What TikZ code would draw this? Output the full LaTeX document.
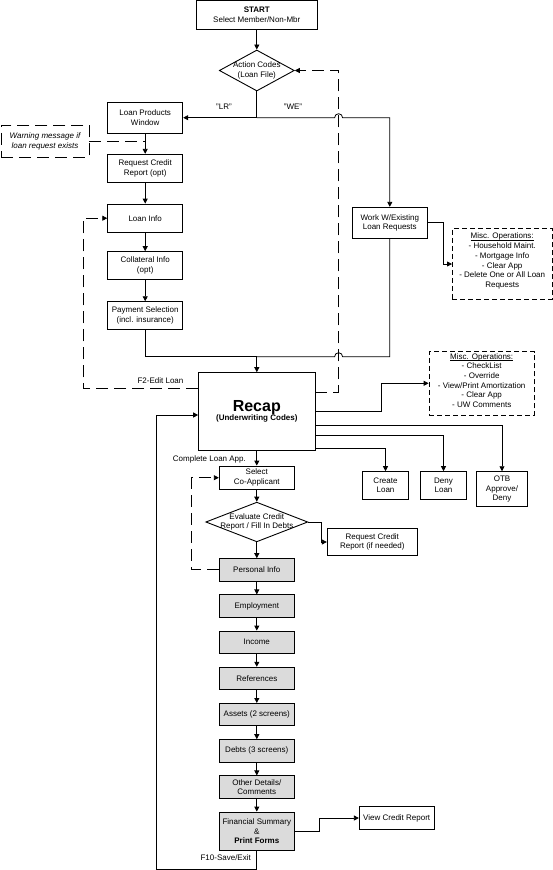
\documentclass[tikz,border=0pt]{standalone}
\usepackage{fontspec}
\setmainfont{Liberation Sans}
\usetikzlibrary{shapes.geometric,positioning,arrows.meta}
\newcommand{\headline}[1]{\underline{\smash{#1}}}
\begin{document}
\begin{tikzpicture}[x=1pt,y=-1pt,
  every node/.style = {align=center, font=\fontsize{8}{9.7}\selectfont},
  stepbox/.style={draw, line width=0.9pt, inner sep=1pt, minimum width=75pt, minimum height=#1},
  stepbox/.default=28pt,
  grey/.style={stepbox=22.3pt, fill=black!14},
  decision/.style={draw, diamond, line width=0.9pt, inner sep=0pt},
  note/.style={draw, line width=0.9pt, dash pattern=on 5pt off 3pt, inner sep=2pt},
  longdash/.style={dash pattern=on 12pt off 6pt},
  link/.style={line width=0.8pt},
  flow/.style={link, -{Triangle[length=5pt,width=5pt]}}]
  \useasboundingbox (0,0) rectangle (553,870);
  % upper part
  \node[stepbox=29.5pt, minimum width=121pt] (start) at (256.8,14.8) {\textbf{START}\\Select Member/Non-Mbr};
  \node[decision, minimum width=75pt, minimum height=41pt,
    label={[align=center]center:Action Codes\\(Loan File)}] (action) at (256.8,70.5) {};
  \node[stepbox=31.3pt] (prod) at (145.2,117.7) {Loan Products\\Window};
  \node[draw, line width=0.9pt, longdash, minimum width=88pt, minimum height=32.3pt,
    font=\fontsize{8}{9.7}\selectfont\itshape] (warn) at (45,141.2) {Warning message if\\loan request exists};
  \node[stepbox=28.4pt] (rcr) at (145.2,168.5) {Request Credit\\Report (opt)};
  \node[stepbox=28.3pt] (info) at (145.2,218.2) {Loan Info};
  \node[stepbox=27.3pt] (coll) at (145.2,265.3) {Collateral Info\\(opt)};
  \node[stepbox=27.6pt] (pay) at (145.2,315.5) {Payment Selection\\(incl. insurance)};
  \node[stepbox=31pt, minimum width=75.6pt] (work) at (389.8,222.8) {Work W/Existing\\Loan Requests};
  \node[note, minimum width=99.5pt, minimum height=71.5pt] (misca) at (502.2,264)
    {\headline{Misc. Operations:}\\- Household Maint.\\- Mortgage Info\\- Clear App\\- Delete One or All Loan\\Requests};
  \node (lr) at (224,107) {"LR"};
  \node (we) at (293,107) {"WE"};
  % recap and its exits
  \node[stepbox=77.3pt, minimum width=116.4pt] (recap) at (256.8,411.3)
    {{\fontsize{16}{19}\selectfont\bfseries Recap}\\\textbf{(Underwriting Codes)}};
  \node[note, minimum width=105.3pt, minimum height=63.3pt] (miscb) at (481.7,383.3)
    {\headline{Misc. Operations:}\\- CheckList\\- Override\\- View/Print Amortization\\- Clear App\\- UW Comments};
  \node[stepbox=27.3pt, minimum width=46pt] (create) at (385.5,485.3) {Create\\Loan};
  \node[stepbox=27.3pt, minimum width=46.4pt] (deny) at (443.5,485.3) {Deny\\Loan};
  \node[stepbox=35pt, minimum width=51pt] (otb) at (502,489.2) {OTB\\Approve/\\Deny};
  \node (f2) at (160.5,380.7) {F2-Edit Loan};
  \node (cla) at (209.4,459.3) {Complete Loan App.};
  % application screens
  \node[stepbox=23.3pt] (coapp) at (256.8,477.7) {Select\\Co-Applicant};
  \node[decision, minimum width=102pt, minimum height=39.7pt,
    label={[align=center]center:Evaluate Credit\\Report / Fill In Debts}] (eval) at (256.8,522) {};
  \node[stepbox=27.4pt, minimum width=90pt] (rcn) at (372.3,542) {Request Credit\\Report (if needed)};
  \node[grey] (pers) at (256.8,569.8) {Personal Info};
  \node[grey, below=13pt of pers] (emp) {Employment};
  \node[grey, below=13pt of emp] (inc) {Income};
  \node[grey, below=13pt of inc] (refs) {References};
  \node[grey, below=13pt of refs] (assets) {Assets (2 screens)};
  \node[grey, below=13pt of assets] (debts) {Debts (3 screens)};
  \node[grey, below=13pt of debts] (other) {Other Details/\\Comments};
  \node[grey, minimum height=38.3pt, below=13pt of other] (fin) {Financial Summary\\\&\\\textbf{Print Forms}};
  \node[stepbox=22.6pt, minimum width=74.7pt] (vcr) at (396.7,818) {View Credit Report};
  \node (f10) at (225.7,857.3) {F10-Save/Exit};
  \coordinate (hopx) at (338.6,117.7);
  \coordinate (hopy) at (338.6,356.7);
  \coordinate (merge) at (256.8,356.7);
  \coordinate (back) at (156.7,869);
  % connectors
  \draw[flow] (start) -- (action);
  \draw[flow] (action.south) |- (prod.east);
  \draw[flow] (action.south |- prod.east) -- ([xshift=-4pt]hopx)
    arc[start angle=180, end angle=0, radius=4pt] -- (work.north |- hopx) -- (work.north);
  \draw[link, longdash] (warn.east) -- (warn.east -| prod.south);
  \foreach \a/\b in {prod/rcr, rcr/info, info/coll, coll/pay}
    \draw[flow] (\a) -- (\b);
  \draw[flow] (pay.south) |- (merge) -- (recap.north);
  \draw[link] (work.south) |- ([xshift=4pt]hopy)
    arc[start angle=0, end angle=180, radius=4pt] -- (merge);
  \draw[flow, longdash] ([yshift=23pt]recap.west) -- ++(-115,0) |- (info.west);
  \draw[flow, longdash] ([yshift=19pt]recap.east) -| (hopx) |- (action.east);
  \draw[flow] (work.east) -- ++(15,0) |- (misca.west);
  \draw[flow] (recap.east) -- ++(66,0) |- (miscb.west);
  \draw[flow] ([yshift=-14.4pt]recap.east) -| (otb.north);
  \draw[flow] ([yshift=-24.4pt]recap.east) -| (deny.north);
  \draw[flow] ([yshift=-37pt]recap.east) -| (create.north);
  \draw[flow] (recap) -- (coapp);
  \draw[flow] (coapp) -- (eval);
  \draw[flow] (eval.east) -- ++(13.3,0) |- (rcn.west);
  \draw[flow] (eval) -- (pers);
  \draw[flow, longdash] (pers.west) -- ++(-27,0) |- (coapp.west);
  \foreach \a/\b in {pers/emp, emp/inc, inc/refs, refs/assets, assets/debts, debts/other, other/fin}
    \draw[flow] (\a) -- (\b);
  \draw[flow] (fin.east) -- ++(24.3,0) |- (vcr.west);
  \draw[flow] (fin.south) |- (back) |- ([yshift=-3.7pt]recap.west);
\end{tikzpicture}
\end{document}
